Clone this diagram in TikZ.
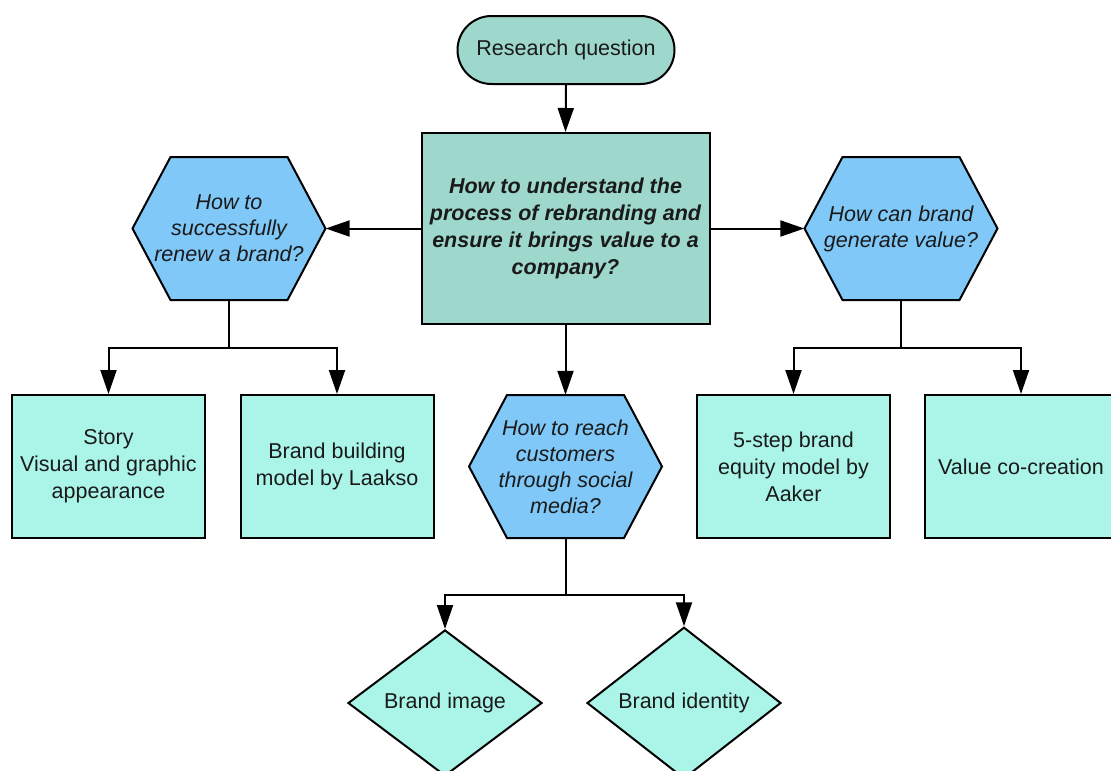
\documentclass[tikz,border=0pt]{standalone}
\usepackage{fontspec}
\setmainfont{Liberation Sans}
\usetikzlibrary{shapes.geometric,arrows.meta}
\definecolor{mainteal}{HTML}{9ED8CC}
\definecolor{lightaqua}{HTML}{AAF5E8}
\definecolor{hexblue}{HTML}{7FC8F7}
\definecolor{txt}{HTML}{1A1A1A}
\tikzset{
  base/.style={draw=black, line width=2pt, text=txt, align=center, inner sep=0pt,
    font=\fontsize{21.5}{27}\selectfont},
  rq/.style={base, fill=mainteal, rounded corners=34pt, minimum width=217pt, minimum height=68pt},
  mainbox/.style={base, fill=mainteal, minimum width=288pt, minimum height=191pt,
    font=\fontsize{21.5}{27}\selectfont\bfseries\itshape},
  hexshape/.style={draw=black, line width=2pt, fill=hexblue, line join=miter},
  hexa/.style={text=txt, align=center, inner sep=0pt, minimum width=193pt, minimum height=143pt,
    font=\fontsize{21.5}{26}\selectfont\itshape},
  leaf/.style={base, fill=lightaqua, minimum width=193pt, minimum height=143pt},
  dia/.style={base, fill=lightaqua, shape=diamond, minimum width=194pt, minimum height=146pt},
  arr/.style={line width=2pt, -{Triangle[length=24pt,width=16pt]}},
  ln/.style={line width=2pt}
}
\newcommand\hexat[4]{%
  \filldraw[hexshape] (#2-96.5,#3) -- (#2-58.5,#3-71.5) -- (#2+58.5,#3-71.5) --
    (#2+96.5,#3) -- (#2+58.5,#3+71.5) -- (#2-58.5,#3+71.5) -- cycle;
  \node[hexa] (#1) at (#2,#3) {#4};}
\begin{document}
\begin{tikzpicture}[x=1pt,y=-1pt]
\useasboundingbox[fill=white] (0,0) rectangle (1111,771);
\node[rq] (rq) at (566,50) {Research question};
\node[mainbox] (main) at (565.5,228.5) {How to understand the\\process of rebranding and\\ensure it brings value to a\\company?};
\hexat{lhex}{229}{228.5}{How to\\successfully\\renew a brand?}
\hexat{rhex}{901}{228.5}{How can brand\\generate value?}
\hexat{mhex}{565.5}{466.5}{How to reach\\customers\\through social\\media?}
\node[leaf] (b1) at (108.5,466.5) {Story\\Visual and graphic\\appearance};
\node[leaf] (b2) at (337,466.5) {Brand building\\model by Laakso};
\node[leaf] (b3) at (793.5,466.5) {5-step brand\\equity model by\\Aaker};
\node[leaf] (b4) at (1021,466.5) {Value co-creation};
\node[dia] (d1) at (445,703) {Brand image};
\node[dia] (d2) at (684,703) {Brand identity};

\draw[arr] (rq.south) -- (main.north);
\draw[arr] (main.west) -- (lhex.east);
\draw[arr] (main.east) -- (rhex.west);
\draw[arr] (main.south) -- (mhex.north);

\coordinate (lj) at (229,348);
\coordinate (rj) at (901,348);
\coordinate (mj) at (565.5,595);
\draw[ln] (lhex.south) -- (lj);
\draw[arr] (lj) -| (b1.north);
\draw[arr] (lj) -| (b2.north);
\draw[ln] (rhex.south) -- (rj);
\draw[arr] (rj) -| (b3.north);
\draw[arr] (rj) -| (b4.north);
\draw[ln] (mhex.south) -- (mj);
\draw[arr] (mj) -| (d1.north);
\draw[arr] (mj) -| (d2.north);
\end{tikzpicture}
\end{document}
